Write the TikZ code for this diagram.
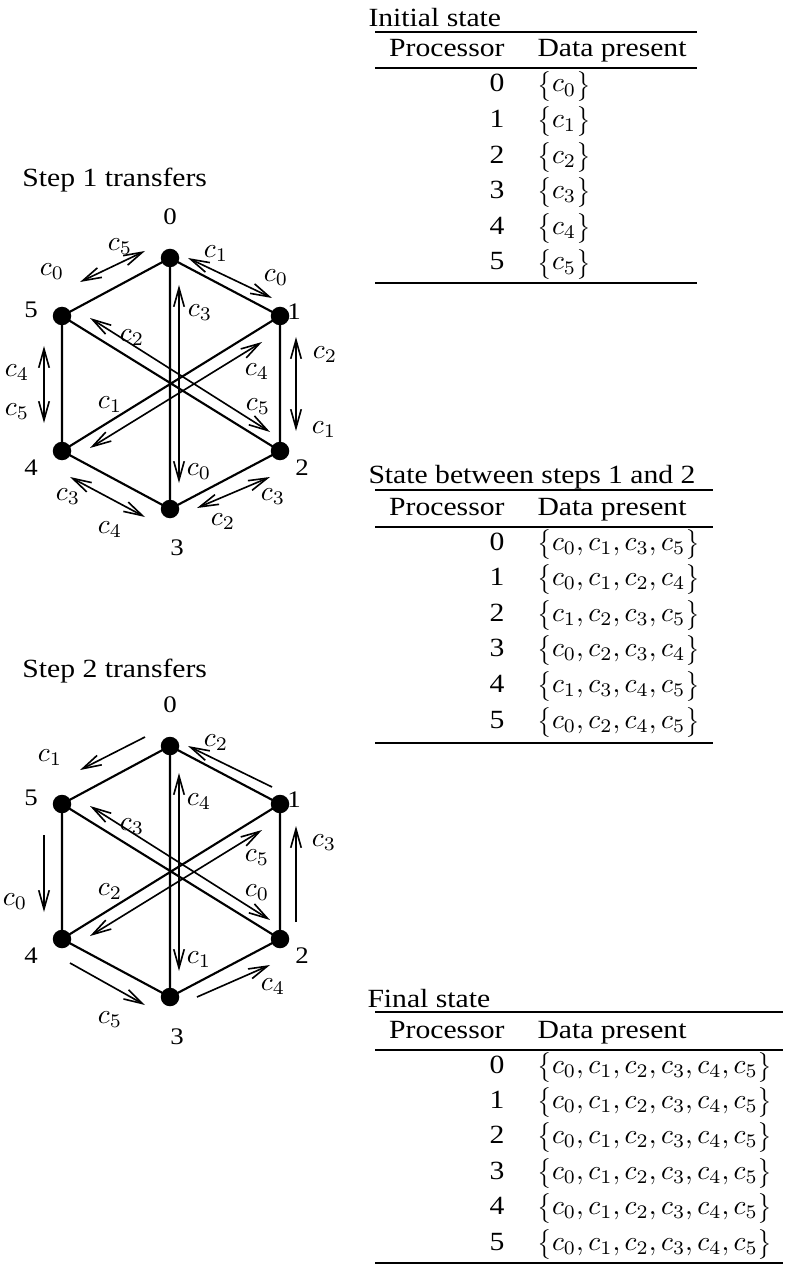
\RequirePackage{fix-cm}
\documentclass[tikz,border=0pt]{standalone}
\usepackage[no-math]{fontspec}
\setmainfont{Liberation Serif}[FakeStretch=1.13]
\usetikzlibrary{arrows.meta}
\newcommand{\tfont}{\fontsize{10.5}{12.6}\selectfont}
\newcommand{\mfont}{\fontsize{11}{13}\selectfont}
\newcommand{\hfont}{\fontsize{9.5}{11}\selectfont}
\newcommand{\mylb}{\mathopen{\hbox{\fontsize{9.5}{14}\selectfont$\bigl\{$}}}
\newcommand{\myrb}{\mathclose{\hbox{\fontsize{9.5}{14}\selectfont$\bigr\}$}}}
\begin{document}
\begin{tikzpicture}[x=0.4pt,y=-0.4pt,
  vtx/.style={circle,fill=black,inner sep=0pt,minimum size=7.4pt},
  edgeln/.style={line width=0.85pt},
  tip/.tip={Straight Barb[length=7.5pt,width=4.2pt,line width=0.65pt]},
  arr/.style={line width=0.65pt,-tip},
  darr/.style={line width=0.65pt,tip-tip},
  lab/.style={inner sep=0pt,font=\tfont},
  mlab/.style={inner sep=0pt,font=\mfont},
  hlab/.style={inner sep=0pt,font=\hfont},
  ttl/.style={inner sep=0pt,anchor=base west,font=\tfont},
  rule/.style={line width=0.8pt},
  mrule/.style={line width=0.55pt}]
\useasboundingbox (0,0) rectangle (786,1271);

% ---------------- Step 1 ----------------
\node[ttl] (st1) at (22,187) {Step 1 transfers};
\node[vtx] (a0) at (170,258) {};
\node[vtx] (a1) at (280,316) {};
\node[vtx] (a2) at (280,451) {};
\node[vtx] (a3) at (170,509) {};
\node[vtx] (a4) at (62,451) {};
\node[vtx] (a5) at (62,316) {};
\draw[edgeln] (a0.center)--(a1.center)--(a2.center)--(a3.center)--(a4.center)--(a5.center)--cycle;
\draw[edgeln] (a0.center)--(a3.center) (a1.center)--(a4.center) (a2.center)--(a5.center);
\node[hlab] (la0) at (170,217) {0};
\node[hlab] (la1) at (294,312) {1};
\node[hlab] (la2) at (302,468) {2};
\node[hlab] (la3) at (177,548) {3};
\node[hlab] (la4) at (31,468) {4};
\node[hlab] (la5) at (31,310) {5};

\coordinate (pa05s) at (80,282);  \coordinate (pa05e) at (145,251);
\coordinate (pa01s) at (188,258); \coordinate (pa01e) at (272,298);
\coordinate (pa03s) at (179,285); \coordinate (pa03e) at (179,483);
\coordinate (pa52s) at (90,318);  \coordinate (pa52e) at (270,432);
\coordinate (pa41s) at (90,448);  \coordinate (pa41e) at (262,342);
\coordinate (pa54s) at (44,346);  \coordinate (pa54e) at (44,423);
\coordinate (pa12s) at (296,337); \coordinate (pa12e) at (296,431);
\coordinate (pa43s) at (70,477);  \coordinate (pa43e) at (145,517);
\coordinate (pa32s) at (197,508); \coordinate (pa32e) at (270,477);
\draw[darr] (pa05s)--(pa05e);
\draw[darr] (pa01s)--(pa01e);
\draw[darr] (pa03s)--(pa03e);
\draw[darr] (pa52s)--(pa52e);
\draw[darr] (pa41s)--(pa41e);
\draw[darr] (pa54s)--(pa54e);
\draw[darr] (pa12s)--(pa12e);
\draw[darr] (pa43s)--(pa43e);
\draw[darr] (pa32s)--(pa32e);

\node[mlab] (ca1) at (120,247) {$c_5$};
\node[mlab] (ca2) at (52,272) {$c_0$};
\node[mlab] (ca3) at (216,254) {$c_1$};
\node[mlab] (ca4) at (276,278) {$c_0$};
\node[mlab] (ca5) at (200,313) {$c_3$};
\node[mlab] (ca6) at (132,338) {$c_2$};
\node[mlab] (ca7) at (325,355) {$c_2$};
\node[mlab] (ca8) at (257,372) {$c_4$};
\node[mlab] (ca9) at (258,407) {$c_5$};
\node[mlab] (ca10) at (110,405) {$c_1$};
\node[mlab] (ca11) at (17,373) {$c_4$};
\node[mlab] (ca12) at (17,412) {$c_5$};
\node[mlab] (ca13) at (324,430) {$c_1$};
\node[mlab] (ca14) at (199,472) {$c_0$};
\node[mlab] (ca15) at (68,497) {$c_3$};
\node[mlab] (ca16) at (110,530) {$c_4$};
\node[mlab] (ca17) at (273,497) {$c_3$};
\node[mlab] (ca18) at (223,522) {$c_2$};

% ---------------- Step 2 ----------------
\node[ttl] (st2) at (22,677) {Step 2 transfers};
\node[vtx] (b0) at (170,746) {};
\node[vtx] (b1) at (280,804) {};
\node[vtx] (b2) at (280,939) {};
\node[vtx] (b3) at (170,997) {};
\node[vtx] (b4) at (62,939) {};
\node[vtx] (b5) at (62,804) {};
\draw[edgeln] (b0.center)--(b1.center)--(b2.center)--(b3.center)--(b4.center)--(b5.center)--cycle;
\draw[edgeln] (b0.center)--(b3.center) (b1.center)--(b4.center) (b2.center)--(b5.center);
\node[hlab] (lb0) at (170,705) {0};
\node[hlab] (lb1) at (294,800) {1};
\node[hlab] (lb2) at (302,956) {2};
\node[hlab] (lb3) at (177,1037) {3};
\node[hlab] (lb4) at (31,956) {4};
\node[hlab] (lb5) at (31,798) {5};

\coordinate (pb05s) at (145,737); \coordinate (pb05e) at (80,770);
\coordinate (pb01s) at (272,787); \coordinate (pb01e) at (188,746);
\coordinate (pb03s) at (179,773); \coordinate (pb03e) at (179,971);
\coordinate (pb52s) at (90,806);  \coordinate (pb52e) at (270,920);
\coordinate (pb41s) at (90,936);  \coordinate (pb41e) at (262,830);
\coordinate (pb54s) at (44,835);  \coordinate (pb54e) at (44,912);
\coordinate (pb12s) at (296,922); \coordinate (pb12e) at (296,826);
\coordinate (pb43s) at (70,963);  \coordinate (pb43e) at (145,1005);
\coordinate (pb32s) at (197,997); \coordinate (pb32e) at (270,965);
\draw[arr] (pb05s)--(pb05e);
\draw[arr] (pb01s)--(pb01e);
\draw[darr] (pb03s)--(pb03e);
\draw[darr] (pb52s)--(pb52e);
\draw[darr] (pb41s)--(pb41e);
\draw[arr] (pb54s)--(pb54e);
\draw[arr] (pb12s)--(pb12e);
\draw[arr] (pb43s)--(pb43e);
\draw[arr] (pb32s)--(pb32e);

\node[mlab] (cb1) at (50,758) {$c_1$};
\node[mlab] (cb2) at (216,743) {$c_2$};
\node[mlab] (cb3) at (199,802) {$c_4$};
\node[mlab] (cb4) at (132,827) {$c_3$};
\node[mlab] (cb5) at (324,843) {$c_3$};
\node[mlab] (cb6) at (257,858) {$c_5$};
\node[mlab] (cb7) at (110,892) {$c_2$};
\node[mlab] (cb8) at (257,893) {$c_0$};
\node[mlab] (cb9) at (15,902) {$c_0$};
\node[mlab] (cb10) at (199,960) {$c_1$};
\node[mlab] (cb11) at (273,987) {$c_4$};
\node[mlab] (cb12) at (110,1020) {$c_5$};

% ---------------- Table 1 ----------------
\node[ttl] (tt1) at (368,27) {Initial state};
\draw[rule] (375,32) -- (697,32);
\node[lab,anchor=base east] (h1a) at (505,57) {Processor};
\node[lab,anchor=base west] (h1b) at (537,57) {Data present};
\draw[mrule] (375,68) -- (697,68);
\foreach \i in {0,...,5}{
  \node[lab,anchor=base east] (t1n\i) at (505,{92+35.6*\i}) {\i};
  \node[mlab,anchor=base west] (t1d\i) at (537,{92+35.6*\i}) {$\mylb c_{\i}\myrb$};
}
\draw[rule] (375,283) -- (697,283);

% ---------------- Table 2 ----------------
\node[ttl] (tt2) at (368,483) {State between steps 1 and 2};
\draw[rule] (375,490) -- (713,490);
\node[lab,anchor=base east] (h2a) at (505,515) {Processor};
\node[lab,anchor=base west] (h2b) at (537,515) {Data present};
\draw[mrule] (375,527) -- (713,527);
\foreach \i/\s in {0/{c_0, c_1, c_3, c_5},1/{c_0, c_1, c_2, c_4},2/{c_1, c_2, c_3, c_5},3/{c_0, c_2, c_3, c_4},4/{c_1, c_3, c_4, c_5},5/{c_0, c_2, c_4, c_5}}{
  \node[lab,anchor=base east] (t2n\i) at (505,{550+35.6*\i}) {\i};
  \node[mlab,anchor=base west] (t2d\i) at (537,{550+35.6*\i}) {$\mylb\s\myrb$};
}
\draw[rule] (375,743) -- (713,743);

% ---------------- Table 3 ----------------
\node[ttl] (tt3) at (367,1007) {Final state};
\draw[rule] (375,1012) -- (783,1012);
\node[lab,anchor=base east] (h3a) at (505,1038) {Processor};
\node[lab,anchor=base west] (h3b) at (537,1038) {Data present};
\draw[mrule] (375,1050) -- (783,1050);
\foreach \i in {0,...,5}{
  \node[lab,anchor=base east] (t3n\i) at (505,{1073+35.4*\i}) {\i};
  \node[mlab,anchor=base west] (t3d\i) at (537,{1073+35.4*\i}) {$\mylb c_0, c_1, c_2, c_3, c_4, c_5\myrb$};
}
\draw[rule] (375,1263) -- (783,1263);
\end{tikzpicture}
\end{document}
